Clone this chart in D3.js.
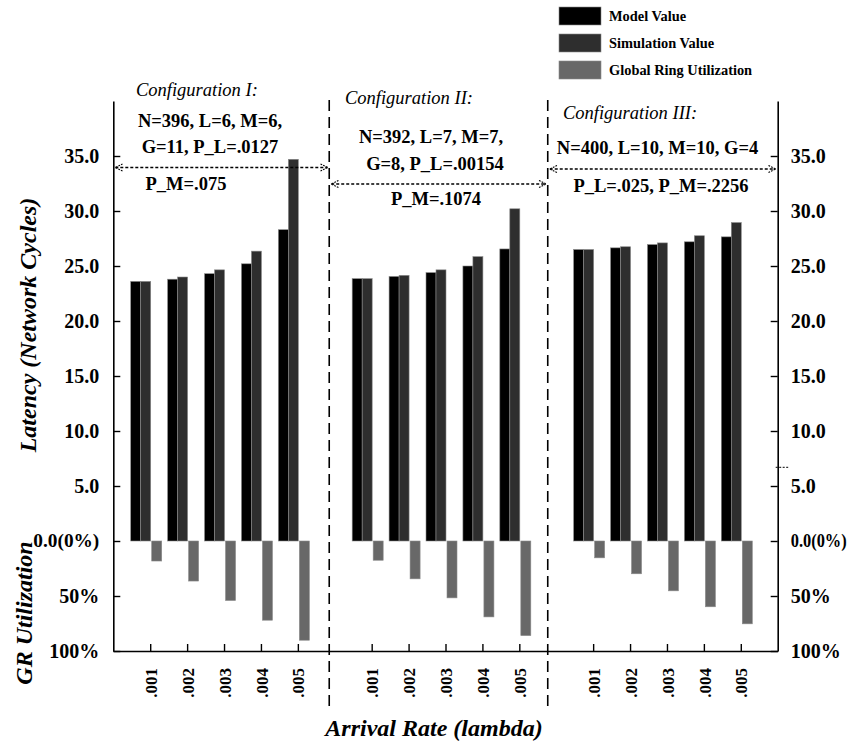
<!DOCTYPE html>
<html>
<head>
<meta charset="utf-8">
<script src="https://cdn.jsdelivr.net/npm/d3@7"></script>
<style>
  html, body { margin: 0; padding: 0; background: #fff; }
  svg { display: block; font-family: "Liberation Serif", "Times New Roman", serif; }
</style>
</head>
<body>
<svg id="chart" width="857" height="746"></svg>
<script>
// Arrival rates per configuration
const rates = [".001", ".002", ".003", ".004", ".005"];
const configs = ["Configuration I:", "Configuration II:", "Configuration III:"];

// Latency in network cycles
const modelValue = [
  [23.6, 23.8, 24.3, 25.2, 28.3],
  [23.85, 24.05, 24.4, 25.0, 26.55],
  [26.5, 26.65, 26.95, 27.2, 27.65]
];
const simulationValue = [
  [23.6, 24.0, 24.65, 26.35, 34.7],
  [23.85, 24.15, 24.65, 25.85, 30.2],
  [26.5, 26.75, 27.1, 27.75, 28.95]
];
// Global ring utilization, percent
const ringUtilization = [
  [18.2, 36.4, 54.1, 72.0, 90.2],
  [17.5, 34.4, 51.7, 69.0, 86.0],
  [15.3, 29.8, 45.3, 59.8, 75.3]
];

const legendLabels = ["Model Value", "Simulation Value", "Global Ring Utilization"];
const paramLines = [
  ["N=396, L=6, M=6,", "G=11, P_L=.0127", "P_M=.075"],
  ["N=392, L=7, M=7,", "G=8, P_L=.00154", "P_M=.1074"],
  ["N=400, L=10, M=10, G=4", "P_L=.025, P_M=.2256"]
];

const colors = ["#000000", "#2e2e2e", "#686868"];
const svg = d3.select("#chart");

// Scales: latency units share the axis with utilization (10% = 1 unit, drawn downward)
const y = d3.scaleLinear().domain([-10, 40]).range([651, 101]);
const x = d3.scaleLinear().domain([0, 18]).range([113.3, 777.7]);
const slot = (c, i) => 1 + c * 6 + i;
const separators = [5.85, 11.77];

const fmt = v => v > 0 ? d3.format(".1f")(v) : (v === 0 ? "0.0(0%)" : (-v * 10) + "%");
const tickVals = d3.range(-10, 40, 5);

// Left axis
const gl = svg.append("g").attr("transform", `translate(${x(0)},0)`)
  .call(d3.axisLeft(y).tickValues(tickVals).tickSizeInner(-7).tickSizeOuter(0)
    .tickPadding(14).tickFormat(fmt));
// Right axis
const gr = svg.append("g").attr("transform", `translate(${x(18)},0)`)
  .call(d3.axisRight(y).tickValues(tickVals).tickSizeInner(-7).tickSizeOuter(0)
    .tickPadding(13).tickFormat(fmt));
// Bottom axis
const slots = [];
configs.forEach((c, ci) => rates.forEach((r, ri) => slots.push({ s: slot(ci, ri), r })));
const gb = svg.append("g").attr("transform", `translate(0,${y(-10)})`)
  .call(d3.axisBottom(x).tickValues(slots.map(d => d.s)).tickSizeInner(-7).tickSizeOuter(0)
    .tickFormat((d, i) => slots[i].r));
gb.selectAll("text")
  .attr("transform", "rotate(-90)")
  .attr("x", -17).attr("y", 0).attr("dy", "0.36em")
  .style("text-anchor", "end");

[gl, gr, gb].forEach(g => {
  g.attr("font-family", null);
  g.select(".domain").attr("stroke", "#000").attr("stroke-width", 1.6);
  g.selectAll(".tick line").attr("stroke", "#000").attr("stroke-width", 1.4);
  g.selectAll("text").attr("fill", "#000").style("font-weight", "bold");
});
gl.selectAll("text").style("font-size", "20px");
gr.selectAll("text").style("font-size", "20px");
gb.selectAll("text").style("font-size", "17px");
// The zero label carries the percent too; keep it compact
gl.selectAll(".tick").filter(d => d === 0).select("text")
  .style("font-size", "18px")
  .attr("textLength", 66).attr("lengthAdjust", "spacingAndGlyphs");
gr.selectAll(".tick").filter(d => d === 0).select("text")
  .style("font-size", "18px")
  .attr("textLength", 56).attr("lengthAdjust", "spacingAndGlyphs");

// Bars
const barW = 10;
const bars = [];
configs.forEach((c, ci) => rates.forEach((r, ri) => {
  const s = slot(ci, ri);
  bars.push({ s, off: -19.5, v0: 0, v1: modelValue[ci][ri], k: 0 });
  bars.push({ s, off: -9.5, v0: 0, v1: simulationValue[ci][ri], k: 1 });
  bars.push({ s, off: 1.5, v0: -ringUtilization[ci][ri] / 10, v1: 0, k: 2 });
}));
svg.append("g").selectAll("rect").data(bars).join("rect")
  .attr("x", d => x(d.s) + d.off)
  .attr("y", d => y(d.v1))
  .attr("width", barW)
  .attr("height", d => y(d.v0) - y(d.v1))
  .attr("fill", d => colors[d.k])
  .attr("stroke", "#8a8a8a")
  .attr("stroke-width", 0.6);

// Configuration separators
svg.append("g").selectAll("line").data(separators).join("line")
  .attr("x1", d => x(d)).attr("x2", d => x(d))
  .attr("y1", 100).attr("y2", 706)
  .attr("stroke", "#000").attr("stroke-width", 1.6)
  .attr("stroke-dasharray", "11,6");

// Double-headed dotted spans
const defs = svg.append("defs");
defs.append("marker").attr("id", "chev")
  .attr("viewBox", "0 -5 10 10").attr("refX", 9).attr("refY", 0)
  .attr("markerWidth", 9).attr("markerHeight", 9).attr("markerUnits", "userSpaceOnUse")
  .attr("orient", "auto-start-reverse")
  .append("path").attr("d", "M1,-4 L9,0 L1,4")
  .attr("fill", "none").attr("stroke", "#000").attr("stroke-width", 1.2)
  .attr("stroke-dasharray", "2,1.2");

const spans = [
  { a: 0, b: separators[0], yy: 167.5, pa: 2, pb: -1.5 },
  { a: separators[0], b: separators[1], yy: 184, pa: 2, pb: -1.5 },
  { a: separators[1], b: 18, yy: 169, pa: 2, pb: -2 }
];
svg.append("g").selectAll("line").data(spans).join("line")
  .attr("x1", d => x(d.a) + d.pa).attr("x2", d => x(d.b) + d.pb)
  .attr("y1", d => d.yy).attr("y2", d => d.yy)
  .attr("stroke", "#000").attr("stroke-width", 1.3)
  .attr("stroke-dasharray", "3,2")
  .attr("marker-start", "url(#chev)").attr("marker-end", "url(#chev)");

// Small dotted mark beside the right axis
svg.append("line").attr("x1", x(18) - 2).attr("x2", x(18) + 12)
  .attr("y1", y(6.7)).attr("y2", y(6.7))
  .attr("stroke", "#000").attr("stroke-width", 1).attr("stroke-dasharray", "2,1.5");

// Configuration headings
const headPos = [[136, 96], [345, 103.5], [563, 118.5]];
svg.append("g").selectAll("text").data(configs).join("text")
  .attr("x", (d, i) => headPos[i][0]).attr("y", (d, i) => headPos[i][1])
  .style("font-style", "italic").style("font-size", "18.5px")
  .text(d => d);

// Parameter lines
const paramPos = [
  [[210, 126.5], [210, 152.5], [186, 190]],
  [[431, 142.5], [435, 170], [436, 205]],
  [[657.5, 153.5], [661, 191.5]]
];
paramLines.forEach((lines, ci) => {
  svg.append("g").selectAll("text").data(lines).join("text")
    .attr("x", (d, i) => paramPos[ci][i][0]).attr("y", (d, i) => paramPos[ci][i][1])
    .attr("text-anchor", "middle")
    .style("font-weight", "bold").style("font-size", "18.5px")
    .text(d => d);
});

// Axis titles
svg.append("text")
  .attr("transform", "translate(36,325) rotate(-90)")
  .attr("text-anchor", "middle")
  .style("font-weight", "bold").style("font-style", "italic").style("font-size", "24px")
  .text("Latency (Network Cycles)");
svg.append("text")
  .attr("transform", "translate(32,613) rotate(-90)")
  .attr("text-anchor", "middle")
  .style("font-weight", "bold").style("font-style", "italic").style("font-size", "24px")
  .text("GR Utilization");
svg.append("text")
  .attr("x", 434).attr("y", 736)
  .attr("text-anchor", "middle")
  .style("font-weight", "bold").style("font-style", "italic").style("font-size", "24px")
  .text("Arrival Rate (lambda)");

// Legend
const lg = svg.append("g").selectAll("g").data(legendLabels).join("g")
  .attr("transform", (d, i) => `translate(559,${7 + i * 27})`);
lg.append("rect").attr("width", 42).attr("height", 18)
  .attr("fill", (d, i) => colors[i]).attr("stroke", "#8a8a8a").attr("stroke-width", 0.6);
lg.append("text").attr("x", 50).attr("y", 14)
  .style("font-weight", "bold").style("font-size", "14.4px")
  .text(d => d);
</script>
</body>
</html>
